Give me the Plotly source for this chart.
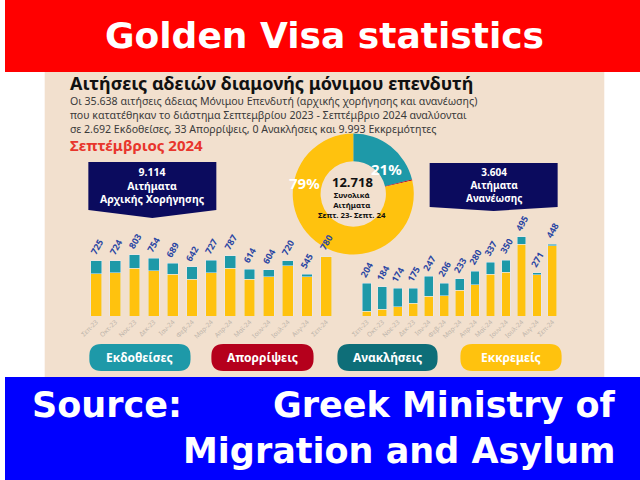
import plotly.graph_objects as go

W, H = 640, 480

# ---------------- data ----------------
months = ["Σεπ-23", "Οκτ-23", "Νοε-23", "Δεκ-23", "Ιαν-24", "Φεβ-24", "Μαρ-24",
          "Απρ-24", "Μαϊ-24", "Ιουν-24", "Ιουλ-24", "Αυγ-24", "Σεπ-24"]

initial_total = [725, 724, 803, 754, 689, 642, 727, 787, 614, 604, 720, 545, 780]
initial_issued = [175, 156, 179, 161, 144, 162, 160, 163, 134, 89, 61, 30, 0]
initial_pending = [550, 568, 624, 593, 545, 480, 567, 624, 480, 515, 659, 515, 780]

renewal_total = [204, 184, 174, 175, 247, 206, 233, 280, 337, 350, 495, 271, 448]
renewal_issued = [173, 142, 116, 94, 124, 79, 71, 84, 77, 75, 45, 13, 8]
renewal_pending = [31, 42, 58, 81, 123, 127, 162, 196, 260, 275, 450, 258, 440]

donut_labels = ["Εκδοθείσες", "Απορρίψεις", "Ανακλήσεις", "Εκκρεμείς"]
donut_values = [2692, 33, 0, 9993]

legend_labels = ["Εκδοθείσες", "Απορρίψεις", "Ανακλήσεις", "Εκκρεμείς"]

# ---------------- style ----------------
TEAL = "#1E99A8"
YELLOW = "#FFC20E"
RED_L = "#B5001C"
DTEAL = "#0E6E78"
NAVY = "#0B0B5E"
BEIGE = "#F2E0CE"
LBLUE = "#2A46A3"
FONT = "Noto Sans"
BIG = "DejaVu Sans"


def px(x):
    return x / W


def py(y):
    return 1 - y / H


fig = go.Figure()

# bars - initial grants
fig.add_trace(go.Bar(x=months, y=initial_pending, marker_color=YELLOW, width=0.56,
                     xaxis="x", yaxis="y", showlegend=False, hoverinfo="skip"))
fig.add_trace(go.Bar(x=months, y=initial_issued, marker_color=TEAL, width=0.56,
                     xaxis="x", yaxis="y", showlegend=False, hoverinfo="skip"))
# bars - renewals
fig.add_trace(go.Bar(x=months, y=renewal_pending, marker_color=YELLOW, width=0.57,
                     xaxis="x2", yaxis="y2", showlegend=False, hoverinfo="skip"))
fig.add_trace(go.Bar(x=months, y=renewal_issued, marker_color=TEAL, width=0.57,
                     xaxis="x2", yaxis="y2", showlegend=False, hoverinfo="skip"))

# donut
cx, cy, r = 351, 194, 61
fig.add_trace(go.Pie(labels=donut_labels, values=donut_values, hole=0.54,
                     marker=dict(colors=[TEAL, RED_L, DTEAL, YELLOW], line=dict(width=0)),
                     sort=False, direction="clockwise", rotation=0,
                     textinfo="none", showlegend=False, hoverinfo="skip",
                     domain=dict(x=[px(cx - r), px(cx + r)], y=[py(cy + r), py(cy - r)])))

shapes = []
# bands & panel
shapes.append(dict(type="rect", xref="paper", yref="paper", x0=0, x1=1, y0=py(72), y1=1,
                   fillcolor="#FF0000", line_width=0, layer="below"))
shapes.append(dict(type="rect", xref="paper", yref="paper", x0=px(40), x1=px(604), y0=py(377), y1=py(72),
                   fillcolor=BEIGE, line_width=0, layer="below"))
shapes.append(dict(type="rect", xref="paper", yref="paper", x0=0, x1=1, y0=0, y1=py(377),
                   fillcolor="#0000FF", line_width=0, layer="below"))


def poly(pts):
    return "M " + " L ".join(f"{px(x):.5f},{py(y):.5f}" for x, y in pts) + " Z"


# navy banners
shapes.append(dict(type="path", xref="paper", yref="paper",
                   path=poly([(84, 162), (213, 162), (213, 210), (148.5, 218), (84, 210)]),
                   fillcolor=NAVY, line_width=0, layer="below"))
shapes.append(dict(type="path", xref="paper", yref="paper",
                   path=poly([(428, 163), (557, 163), (557, 207), (492.5, 211), (428, 207)]),
                   fillcolor=NAVY, line_width=0, layer="below"))


def pill(x0, y0, x1, y1, rr):
    p = [
        f"M {px(x0 + rr):.5f},{py(y0):.5f}",
        f"L {px(x1 - rr):.5f},{py(y0):.5f}",
        f"Q {px(x1):.5f},{py(y0):.5f} {px(x1):.5f},{py(y0 + rr):.5f}",
        f"L {px(x1):.5f},{py(y1 - rr):.5f}",
        f"Q {px(x1):.5f},{py(y1):.5f} {px(x1 - rr):.5f},{py(y1):.5f}",
        f"L {px(x0 + rr):.5f},{py(y1):.5f}",
        f"Q {px(x0):.5f},{py(y1):.5f} {px(x0):.5f},{py(y1 - rr):.5f}",
        f"L {px(x0):.5f},{py(y0 + rr):.5f}",
        f"Q {px(x0):.5f},{py(y0):.5f} {px(x0 + rr):.5f},{py(y0):.5f}",
        "Z",
    ]
    return " ".join(p)


pill_x = [(85, 187), (208, 311), (335, 436), (459, 561)]
pill_colors = [TEAL, RED_L, DTEAL, YELLOW]
for (a, b), c in zip(pill_x, pill_colors):
    shapes.append(dict(type="path", xref="paper", yref="paper", path=pill(a, 344, b, 371, 12),
                       fillcolor=c, line_width=0, layer="below"))

ann = []


def text(x, y, s, size, color, anchor="center", font=FONT, bold=True, align="center"):
    ann.append(dict(xref="paper", yref="paper", x=px(x), y=py(y), text=(f"<b>{s}</b>" if bold else s),
                    showarrow=False, xanchor=anchor, yanchor="middle", borderpad=0, align=align,
                    font=dict(family=font, size=size, color=color)))


# header/footer
text(322, 36, "Golden Visa statistics", 36, "white", font=BIG)
text(26, 405, "Source:", 35, "white", anchor="left", font=BIG)
text(617, 405, "Greek Ministry of", 35, "white", anchor="right", font=BIG)
text(617, 451, "Migration and Asylum", 35, "white", anchor="right", font=BIG)

# infographic header
text(64, 83, "Αιτήσεις αδειών διαμονής μόνιμου επενδυτή", 18, "#111111", anchor="left")
para = ["Οι 35.638 αιτήσεις άδειας Μόνιμου Επενδυτή (αρχικής χορήγησης και ανανέωσης)",
        "που κατατέθηκαν το διάστημα Σεπτεμβρίου 2023 - Σεπτέμβριο 2024 αναλύονται",
        "σε 2.692 Εκδοθείσες, 33 Απορρίψεις, 0 Ανακλήσεις και 9.993 Εκκρεμότητες"]
text(64, 115.5, "<br>".join(para), 10.6, "#3A3A3A", anchor="left", bold=False, align="left")
text(64, 145, "Σεπτέμβριος 2024", 15, "#E8352C", anchor="left")

# banners text (multi-line)
text(148.5, 186, "9.114<br>Αιτήματα<br>Αρχικής Χορήγησης", 10.5, "white")
text(492.5, 185, "3.604<br>Αιτήματα<br>Ανανέωσης", 10, "white")

# donut texts
text(350, 181.5, "12.718", 13, "#111111")
text(350, 205, "Συνολικά<br>Αιτήματα<br>Σεπτ. 23- Σεπτ. 24", 7.8, "#111111")
text(302, 183, "79%", 15, "white")
text(384, 169, "21%", 15, "white")

# legend pill texts
for (a, b), s in zip(pill_x, legend_labels):
    text((a + b) / 2, 357.5, s, 12, "white")

# value labels
for xr, yr, tot in (("x", "y", initial_total), ("x2", "y2", renewal_total)):
    for m, v in zip(months, tot):
        ann.append(dict(xref=xr, yref=yr, x=m, y=v, text=f"<b>{v}</b>", showarrow=False,
                        textangle=-60, xanchor="center", yanchor="bottom", yshift=1,
                        font=dict(family=FONT, size=9, color=LBLUE)))

axis_common = dict(showgrid=False, zeroline=False, showline=False, ticks="",
                   tickangle=-45, tickfont=dict(family=FONT, size=6.5, color="#BDB4AA"),
                   fixedrange=True)
yaxis_common = dict(showgrid=False, zeroline=False, showline=False, showticklabels=False,
                    ticks="", fixedrange=True)

fig.update_layout(
    width=W, height=H, autosize=False,
    margin=dict(l=0, r=0, t=0, b=0),
    paper_bgcolor="white", plot_bgcolor="rgba(0,0,0,0)",
    barmode="stack",
    xaxis=dict(domain=[px(79.65), px(335.9)], anchor="y", **axis_common),
    yaxis=dict(domain=[py(316), py(200)], range=[0, 1518], anchor="x", **yaxis_common),
    xaxis2=dict(domain=[px(352.5), px(563.9)], anchor="y2", **axis_common),
    yaxis2=dict(domain=[py(316), py(200)], range=[0, 725], anchor="x2", **yaxis_common),
    shapes=shapes, annotations=ann,
    showlegend=False,
)

fig.write_html("out.html", config={"displayModeBar": False},
               post_script="document.body.style.margin='0';document.body.style.overflow='hidden';")
